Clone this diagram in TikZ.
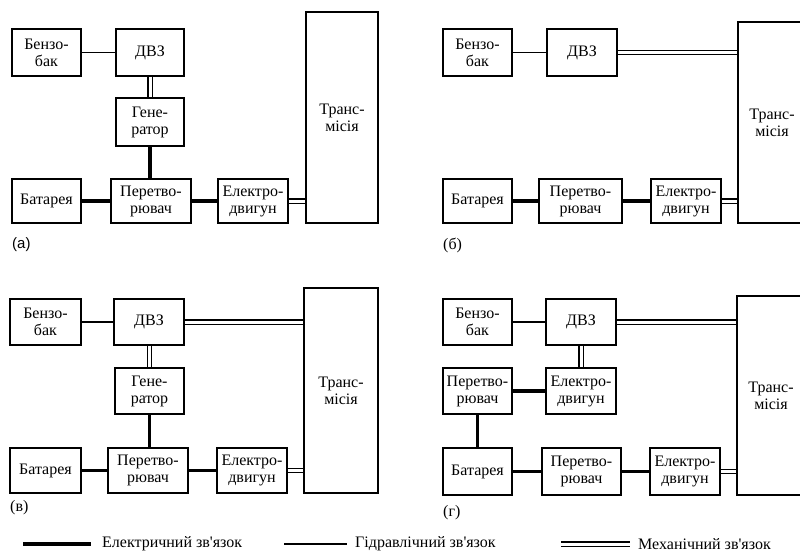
\documentclass[tikz,border=0pt]{standalone}
\usepackage{fontspec}
\setmainfont{Liberation Serif}
\newfontfamily\lsans{Liberation Sans}
\begin{document}
\begin{tikzpicture}[x=1pt,y=-1pt,
  blk/.style={draw, line width=1.6pt, align=center, inner sep=0pt, font=\fontsize{16}{17}\selectfont},
  elec/.style={line width=3.2pt},
  hyd/.style={line width=1.3pt},
  mech/.style={double, double distance=3pt, line width=1.2pt},
  lbl/.style={font=\fontsize{16}{18}\selectfont, inner sep=0pt}]
\useasboundingbox (0,0) rectangle (800,555);
\clip (0,0) rectangle (800,555);
% ---------- (a)
\node[blk, minimum width=69pt, minimum height=47pt] (bba) at (46.5,52.5) {Бензо-\\бак};
\node[blk, minimum width=68pt, minimum height=47pt] (dvza) at (150,52.5) {ДВЗ};
\node[blk, minimum width=68pt, minimum height=48pt] (gena) at (150,122) {Гене-\\ратор};
\node[blk, minimum width=69pt, minimum height=44pt] (bata) at (46.5,201) {Батарея};
\node[blk, minimum width=80pt, minimum height=44pt] (pera) at (151,201) {Перетво-\\рювач};
\node[blk, minimum width=70pt, minimum height=44pt] (eda) at (253,201) {Електро-\\двигун};
\node[blk, minimum width=72pt, minimum height=211pt] (tra) at (342,117.5) {Транс-\\місія};
\node[lbl, font=\lsans\fontsize{15}{17}\selectfont, anchor=west] (la) at (12,245) {(a)};
\draw[hyd] (bba) -- (dvza);
\draw[mech] (dvza.south) -- (dvza.south |- gena.north);
\draw[elec] (gena.south) -- (gena.south |- pera.north);
\draw[elec] (bata) -- (pera);
\draw[elec] (pera) -- (eda);
\draw[mech] (eda.east) -- (eda.east -| tra.west);
% ---------- (б)
\node[blk, minimum width=69pt, minimum height=47pt] (bbb) at (477.5,52.5) {Бензо-\\бак};
\node[blk, minimum width=70pt, minimum height=47pt] (dvzb) at (582,52.5) {ДВЗ};
\node[blk, minimum width=69pt, minimum height=44pt] (batb) at (477.5,201) {Батарея};
\node[blk, minimum width=83pt, minimum height=44pt] (perb) at (580.5,201) {Перетво-\\рювач};
\node[blk, minimum width=70pt, minimum height=44pt] (edb) at (686,201) {Електро-\\двигун};
\node[blk, minimum width=68pt, minimum height=201pt] (trb) at (772,122.5) {Транс-\\місія};
\node[lbl, anchor=west] (lb) at (443,245) {(б)};
\draw[hyd] (bbb) -- (dvzb);
\draw[mech] (dvzb.east) -- (dvzb.east -| trb.west);
\draw[elec] (batb) -- (perb);
\draw[elec] (perb) -- (edb);
\draw[mech] (edb.east) -- (edb.east -| trb.west);
% ---------- (в)
\node[blk, minimum width=71pt, minimum height=46pt] (bbc) at (45.5,322) {Бензо-\\бак};
\node[blk, minimum width=70pt, minimum height=46pt] (dvzc) at (149,322) {ДВЗ};
\node[blk, minimum width=69pt, minimum height=46pt] (genc) at (149.5,391) {Гене-\\ратор};
\node[blk, minimum width=71pt, minimum height=45pt] (batc) at (45.5,470.5) {Батарея};
\node[blk, minimum width=80pt, minimum height=45pt] (perc) at (148,470.5) {Перетво-\\рювач};
\node[blk, minimum width=70pt, minimum height=45pt] (edc) at (252,470.5) {Електро-\\двигун};
\node[blk, minimum width=74pt, minimum height=205pt] (trc) at (341,390.5) {Транс-\\місія};
\node[lbl, anchor=west] (lc) at (10,508) {(в)};
\draw[hyd] (bbc) -- (dvzc);
\draw[mech] (dvzc.east) -- (dvzc.east -| trc.west);
\draw[mech] (genc.north |- dvzc.south) -- (genc.north);
\draw[elec] (genc.south) -- (genc.south |- perc.north);
\draw[elec] (batc) -- (perc);
\draw[elec] (perc) -- (edc);
\draw[mech] (edc.east) -- (edc.east -| trc.west);
% ---------- (г)
\node[blk, minimum width=69pt, minimum height=46pt] (bbd) at (477.5,322) {Бензо-\\бак};
\node[blk, minimum width=70pt, minimum height=46pt] (dvzd) at (581,322) {ДВЗ};
\node[blk, minimum width=69pt, minimum height=46pt] (perd2) at (477.5,391) {Перетво-\\рювач};
\node[blk, minimum width=70pt, minimum height=46pt] (edd2) at (581,391) {Електро-\\двигун};
\node[blk, minimum width=69pt, minimum height=47pt] (batd) at (477.5,471.5) {Батарея};
\node[blk, minimum width=79pt, minimum height=47pt] (perd) at (581.5,471.5) {Перетво-\\рювач};
\node[blk, minimum width=70pt, minimum height=47pt] (edd) at (685,471.5) {Електро-\\двигун};
\node[blk, minimum width=68pt, minimum height=199pt] (trd) at (771,395.5) {Транс-\\місія};
\node[lbl, anchor=west] (ld) at (443,513) {(г)};
\draw[hyd] (bbd) -- (dvzd);
\draw[mech] (dvzd.east) -- (dvzd.east -| trd.west);
\draw[mech] (dvzd) -- (edd2);
\draw[elec] (perd2) -- (edd2);
\draw[elec] (perd2) -- (batd);
\draw[elec] (batd) -- (perd);
\draw[elec] (perd) -- (edd);
\draw[mech] (edd.east) -- (edd.east -| trd.west);
% ---------- legend
\coordinate (l1a) at (23,544); \coordinate (l1b) at (91,544);
\coordinate (l2a) at (284,544); \coordinate (l2b) at (347,544);
\coordinate (l3a) at (561,544); \coordinate (l3b) at (630,544);
\draw[elec] (l1a) -- (l1b);
\draw[hyd] (l2a) -- (l2b);
\draw[mech] (l3a) -- (l3b);
\node[lbl, anchor=west] (t1) at (102,544) {Електричний зв\textquotesingle язок};
\node[lbl, anchor=west] (t2) at (355,544) {Гідравлічний зв\textquotesingle язок};
\node[lbl, anchor=west] (t3) at (638,544) {Механічний зв\textquotesingle язок};
\end{tikzpicture}
\end{document}
